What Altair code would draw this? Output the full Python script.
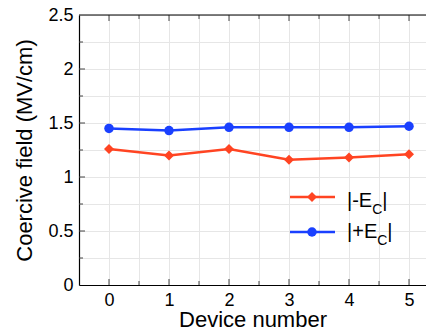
import altair as alt
import pandas as pd

# ---- data ----
devices = [0, 1, 2, 3, 4, 5]
neg_ec = [1.26, 1.20, 1.26, 1.16, 1.18, 1.21]   # |-Ec|
pos_ec = [1.45, 1.43, 1.46, 1.46, 1.46, 1.47]   # |+Ec|

x_grid = [0, 0.5, 1, 1.5, 2, 2.5, 3, 3.5, 4, 4.5, 5]
x_major = [0, 1, 2, 3, 4, 5]
x_minor = [0.5, 1.5, 2.5, 3.5, 4.5]
y_grid = [0, 0.25, 0.5, 0.75, 1, 1.25, 1.5, 1.75, 2, 2.25, 2.5]
y_major = [0.5, 1, 1.5, 2]
y_minor = [0.25, 0.75, 1.25, 1.75, 2.25]

RED = "#ff4422"
BLUE = "#1a40ff"
FONT = "Liberation Sans"
W, H = 347, 270

xs = alt.Scale(domain=[-0.5, 5.283], nice=False, zero=False)
ys = alt.Scale(domain=[0, 2.5], nice=False, zero=True)

neg_df = pd.DataFrame({"x": devices, "y": neg_ec})
pos_df = pd.DataFrame({"x": devices, "y": pos_ec})

x_axis = alt.Axis(values=x_grid, grid=True, gridColor="#e6e6e6",
                  ticks=False, domainColor="black", domainWidth=1.2,
                  labelExpr="datum.value % 1 == 0 ? datum.label : ''",
                  format="~g", labelFontSize=18, labelFont=FONT, labelColor="black",
                  labelPadding=6.5,
                  title="Device number", titleFontSize=22, titleFont=FONT,
                  titleFontWeight="normal", titleColor="black",
                  titleBaseline="alphabetic", titleY=41.5)
y_axis = alt.Axis(values=y_grid, grid=True, gridColor="#e6e6e6",
                  ticks=False, domainColor="black", domainWidth=1.2,
                  labelExpr="datum.value % 0.5 == 0 ? datum.label : ''",
                  format="~g", labelFontSize=18, labelFont=FONT, labelColor="black",
                  labelPadding=6,
                  title="Coercive field (MV/cm)", titleFontSize=22, titleFont=FONT,
                  titleFontWeight="normal", titleColor="black",
                  titleBaseline="alphabetic", titleX=-47.5)

def X(f):
    return alt.X(f, scale=xs, axis=x_axis)

def Y(f):
    return alt.Y(f, scale=ys, axis=y_axis)

red_line = alt.Chart(neg_df).mark_line(color=RED, strokeWidth=2.5).encode(
    x=X("x:Q"), y=Y("y:Q"))
red_pts = alt.Chart(neg_df).mark_point(filled=True, shape="diamond", size=100,
                                       color=RED, opacity=1).encode(x=X("x:Q"), y=Y("y:Q"))
blue_line = alt.Chart(pos_df).mark_line(color=BLUE, strokeWidth=2.5).encode(
    x=X("x:Q"), y=Y("y:Q"))
blue_pts = alt.Chart(pos_df).mark_point(filled=True, shape="circle", size=90,
                                        color=BLUE, opacity=1).encode(x=X("x:Q"), y=Y("y:Q"))

TICK = "#444444"

def xticks(vals, length):
    df = pd.DataFrame({"x": vals})
    top = alt.Chart(df).mark_rule(color=TICK, strokeWidth=1).encode(
        x=X("x:Q"), y=alt.value(0), y2=alt.value(length))
    bot = alt.Chart(df).mark_rule(color=TICK, strokeWidth=1).encode(
        x=X("x:Q"), y=alt.value(H), y2=alt.value(H - length))
    return [top, bot]

def yticks(vals, length):
    df = pd.DataFrame({"y": vals})
    left = alt.Chart(df).mark_rule(color=TICK, strokeWidth=1).encode(
        y=Y("y:Q"), x=alt.value(0), x2=alt.value(length))
    return [left]

top_border = alt.Chart(pd.DataFrame({"a": [0]})).mark_rule(
    color="black", strokeWidth=1.2).encode(x=alt.value(0), x2=alt.value(W), y=alt.value(0))

# ---- legend ----
one = pd.DataFrame({"a": [0]})

def txt(xpos, ybase, s, size):
    return alt.Chart(one).mark_text(text=s, align="left", baseline="alphabetic",
                                    fontSize=size, font=FONT, color="black").encode(
        x=alt.value(xpos), y=alt.value(ybase))

def legend_row(y_line, color, shape, size):
    rule = alt.Chart(one).mark_rule(color=color, strokeWidth=2.5).encode(
        x=alt.value(211), x2=alt.value(256), y=alt.value(y_line))
    pt = alt.Chart(one).mark_point(filled=True, shape=shape, size=size, color=color,
                                   opacity=1).encode(x=alt.value(233), y=alt.value(y_line))
    return [rule, pt]

# widths (Arial metrics): "|-E" = 25.2, "|+E" = 30.2, "C"@14 = 10.1
legend = (legend_row(182, RED, "diamond", 100)
          + [txt(268, 192, "|-E", 20), txt(293.2, 199, "C", 14), txt(303.3, 192, "|", 20)]
          + legend_row(217, BLUE, "circle", 90)
          + [txt(268, 223, "|+E", 20), txt(298.2, 230, "C", 14), txt(308.3, 223, "|", 20)])

layers = ([red_line]
          + xticks(x_major, 6) + xticks(x_minor, 4)
          + yticks(y_major, 6) + yticks(y_minor, 4)
          + [top_border, red_pts, blue_line, blue_pts]
          + legend)

chart = alt.layer(*layers).properties(
    width=W, height=H,
    autosize=alt.AutoSizeParams(type="none"),
    padding={"left": 71, "top": 7, "right": 0, "bottom": 42},
).configure_view(stroke=None)

chart.save("out.html", embed_options={"renderer": "svg", "actions": False})
